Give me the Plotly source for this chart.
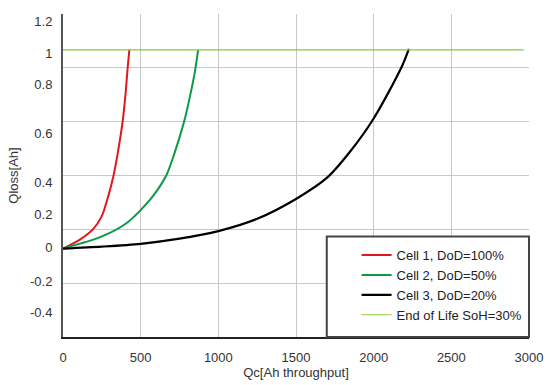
import plotly.graph_objects as go

# Data
cell1_qc = [0, 109, 195, 249, 291, 324, 356, 384, 403, 416, 427]
cell1_q = [0, 0.045, 0.099, 0.162, 0.263, 0.363, 0.497, 0.64, 0.782, 0.908, 1.0]

cell2_qc = [0, 109, 195, 302, 410, 495, 580, 667, 709, 752, 785, 817, 849, 870]
cell2_q = [0, 0.025, 0.045, 0.079, 0.129, 0.190, 0.265, 0.372, 0.46, 0.565, 0.655, 0.765, 0.89, 1.0]

cell3_qc = [0, 250, 500, 750, 1000, 1250, 1500, 1700, 1850, 2000, 2180, 2227]
cell3_q = [0, 0.01, 0.024, 0.05, 0.088, 0.15, 0.25, 0.357, 0.49, 0.655, 0.914, 1.005]

eol_qc = [0, 2966]
eol_q = [1.0, 1.0]

# Tick labels as they appear on the reference's y axis (positions in data units)
ytick_pos = [1.143, 0.983, 0.824, 0.578, 0.332, 0.171, 0.005, -0.164, -0.322]
ytick_text = ["1.2", "1", "0.8", "0.6", "0.4", "0.2", "0", "-0.2", "-0.4"]
# Horizontal gridline positions (data units)
ygrid_pos = [1.181, 0.910, 0.638, 0.367, 0.095, -0.176]
yrange = [-0.445, 1.181]

xtick_vals = [0, 500, 1000, 1500, 2000, 2500, 3000]

fig = go.Figure()
fig.add_trace(go.Scatter(x=cell1_qc, y=cell1_q, mode="lines", name="Cell 1, DoD=100%",
                         line=dict(color="#e2161d", width=2, shape="spline", smoothing=0.8)))
fig.add_trace(go.Scatter(x=cell2_qc, y=cell2_q, mode="lines", name="Cell 2, DoD=50%",
                         line=dict(color="#0a9a48", width=2, shape="spline", smoothing=0.8)))
fig.add_trace(go.Scatter(x=cell3_qc, y=cell3_q, mode="lines", name="Cell 3, DoD=20%",
                         line=dict(color="#000000", width=2.2, shape="spline", smoothing=0.8)))
fig.add_trace(go.Scatter(x=eol_qc, y=eol_q, mode="lines", name="End of Life SoH=30%",
                         line=dict(color="#8cc63f", width=1.2)))
# invisible trace on yaxis2 to activate gridlines
fig.add_trace(go.Scatter(x=[0], y=[0], yaxis="y2", mode="markers",
                         marker=dict(opacity=0), showlegend=False, hoverinfo="skip"))

fam = "Liberation Sans, Arial, sans-serif"
font = dict(family=fam, size=13, color="#333333")

# legend frame
fig.add_shape(type="rect", xref="paper", yref="paper", x0=0.566, x1=1.0, y0=0.0, y1=0.311,
              line=dict(color="#444444", width=2), fillcolor="white", layer="above")

fig.update_layout(
    width=550, height=385,
    margin=dict(l=63, r=20.5, t=14, b=47.5),
    plot_bgcolor="white", paper_bgcolor="white",
    font=font,
    showlegend=True,
    legend=dict(x=0.63, xanchor="left", y=0.30, yanchor="top",
                bgcolor="rgba(0,0,0,0)", borderwidth=0,
                font=dict(family=fam, size=13, color="#222222"),
                tracegroupgap=0),
    xaxis=dict(range=[0, 3000], tickvals=xtick_vals, showgrid=True, gridcolor="#c8c8c8",
               gridwidth=1, zeroline=False, showline=True, linecolor="#222222", linewidth=2,
               ticks="", ticklabelstandoff=7, automargin=False,
               tickfont=dict(family=fam, size=13, color="#333333"),
               title=dict(text="Qc[Ah throughput]", standoff=2,
                          font=dict(family=fam, size=13, color="#333333"))),
    yaxis=dict(range=yrange, tickvals=ytick_pos, ticktext=ytick_text, showgrid=False,
               zeroline=False, showline=True, linecolor="#555555", linewidth=2,
               ticks="", ticklabelstandoff=6, automargin=False,
               tickfont=dict(family=fam, size=13, color="#333333"),
               title=dict(text="Qloss[Ah]", standoff=8,
                          font=dict(family=fam, size=13, color="#333333"))),
    yaxis2=dict(range=yrange, overlaying="y", tickvals=ygrid_pos, showticklabels=False,
                showgrid=True, gridcolor="#c8c8c8", gridwidth=1, zeroline=False,
                showline=False, ticks="", automargin=False),
)

fig.write_html("out.html", config={"displayModeBar": False},
               post_script="document.body.style.margin='0';")
